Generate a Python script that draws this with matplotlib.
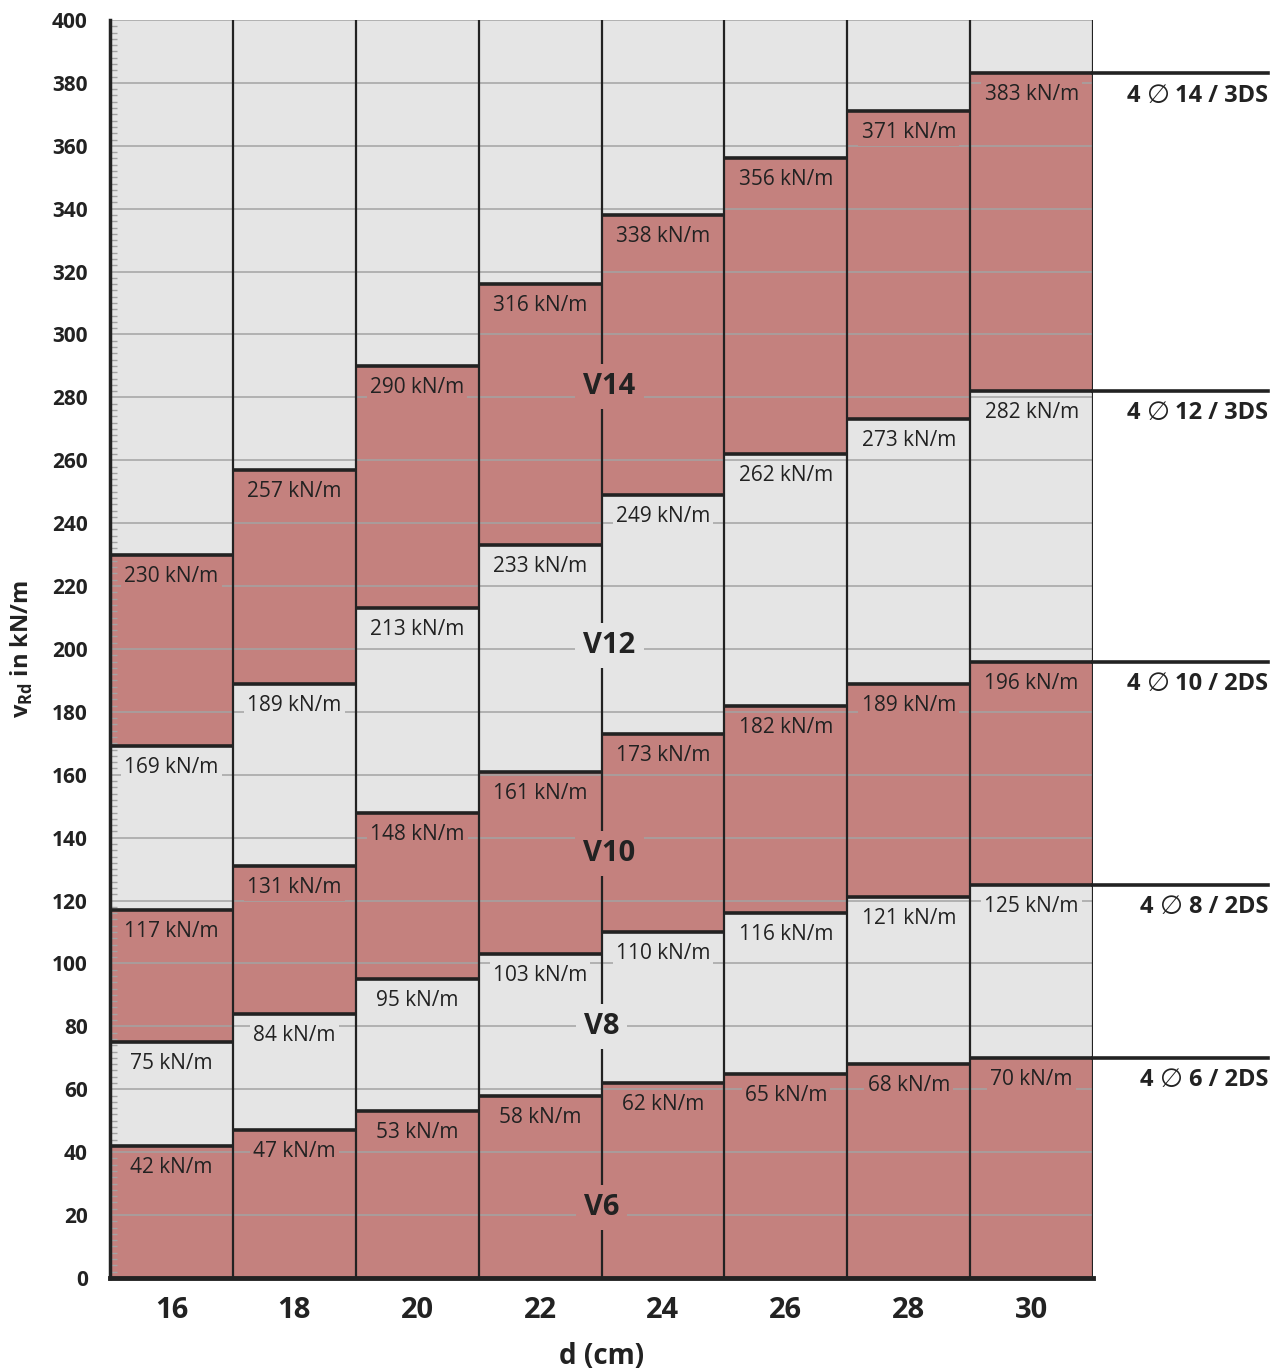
import matplotlib.pyplot as plt
from matplotlib.ticker import MultipleLocator
from matplotlib.transforms import offset_copy

plt.rcParams['font.family'] = ['Open Sans', 'DejaVu Sans']

# thickness d in cm and shear resistance levels per reinforcement type
d = [16, 18, 20, 22, 24, 26, 28, 30]
v6 = [42, 47, 53, 58, 62, 65, 68, 70]
v8 = [75, 84, 95, 103, 110, 116, 121, 125]
v10 = [117, 131, 148, 161, 173, 182, 189, 196]
v12 = [169, 189, 213, 233, 249, 262, 273, 282]
v14 = [230, 257, 290, 316, 338, 356, 371, 383]

levels = [v6, v8, v10, v12, v14]
names = ["V6", "V8", "V10", "V12", "V14"]
name_x = [23, 23, 23.13, 23.13, 23.13]
name_y = [22.5, 80, 135, 201, 283.5]
bars_n = ["6", "8", "10", "12", "14"]
ds = ["2DS", "2DS", "2DS", "3DS", "3DS"]

red = "#c4817e"
grey = "#e5e5e5"
ink = "#222222"

fig = plt.figure(figsize=(12.82, 13.7), dpi=100)
ax = fig.add_axes([0.0858, 0.0672, 0.7668, 0.9182])

# stacked segments, alternating red / grey
bottom = [0] * len(d)
for i, lev in enumerate(levels):
    h = [t - b for t, b in zip(lev, bottom)]
    ax.bar(d, h, bottom=bottom, width=2, color=red if i % 2 == 0 else grey,
           edgecolor="none", zorder=1)
    bottom = lev
ax.bar(d, [400 - b for b in bottom], bottom=bottom, width=2, color=grey,
       edgecolor="none", zorder=1)

ax.set_xlim(15, 31)
ax.set_ylim(0, 400)
ax.yaxis.set_major_locator(MultipleLocator(20))
ax.yaxis.set_minor_locator(MultipleLocator(2))
ax.grid(axis="y", which="major", color="#a3a3a3", lw=1.1, zorder=2)
ax.set_axisbelow(False)

# column separators
for x in [17, 19, 21, 23, 25, 27, 29, 31]:
    ax.axvline(x, color=ink, lw=1.6, zorder=3)

renderer = fig.canvas.get_renderer()

# level lines and labels
for i, lev in enumerate(levels):
    below = red if i % 2 == 0 else grey
    for x, v in zip(d, lev):
        ax.hlines(v, x - 1, x + 1, color=ink, lw=2.6, zorder=4)
        ax.annotate(f"{v} kN/m", (x, v), xytext=(0, -15.5), textcoords="offset points",
                    ha="center", va="center", fontsize=15, color=ink, zorder=5,
                    bbox=dict(boxstyle="square,pad=0.15", fc=below, ec="none"))
    # reference lines and reinforcement label on the right
    ax.plot([31, 33.85], [lev[-1], lev[-1]], color=ink, lw=2.6,
            clip_on=False, zorder=4)
    tr = offset_copy(ax.transData, fig=fig, x=0, y=-16, units="points")
    t1 = ax.text(33.85, lev[-1], f"{bars_n[i]} / {ds[i]}", transform=tr,
                 ha="right", va="center", fontsize=17, fontweight="bold",
                 color=ink, clip_on=False)
    w1 = t1.get_window_extent(renderer).width * 72 / fig.dpi
    tr2 = offset_copy(ax.transData, fig=fig, x=-w1 - 4, y=-16, units="points")
    t2 = ax.text(33.85, lev[-1], "\u2205", transform=tr2, ha="right", va="center",
                 fontsize=19, family=["DejaVu Sans"], color=ink, clip_on=False)
    w2 = t2.get_window_extent(renderer).width * 72 / fig.dpi
    tr3 = offset_copy(ax.transData, fig=fig, x=-w1 - w2 - 9, y=-16, units="points")
    ax.text(33.85, lev[-1], "4", transform=tr3, ha="right", va="center",
            fontsize=17, fontweight="bold", color=ink, clip_on=False)

for i, n in enumerate(names):
    fc = red if i % 2 == 0 else grey
    ax.text(name_x[i], name_y[i], n, ha="center", va="center", fontsize=21,
            fontweight="bold", color=ink, zorder=6,
            bbox=dict(boxstyle="square,pad=0.28", fc=fc, ec="none"))

for s in ["top", "right"]:
    ax.spines[s].set_visible(False)
ax.spines["left"].set_linewidth(2.5)
ax.spines["bottom"].set_linewidth(3.5)
ax.spines["left"].set_color(ink)
ax.spines["bottom"].set_color(ink)
ax.spines["left"].set_zorder(7)
ax.spines["bottom"].set_zorder(7)

ax.set_xticks(d)
ax.tick_params(axis="x", length=0, labelsize=21, pad=13)
ax.tick_params(axis="y", which="major", length=0, labelsize=15, pad=16)
ax.tick_params(axis="y", which="minor", direction="in", length=5, color="#a3a3a3", width=1)
for lab in ax.get_xticklabels() + ax.get_yticklabels():
    lab.set_fontweight("bold")
    lab.set_color(ink)

ax.set_xlabel("d (cm)", fontsize=20, fontweight="bold", color=ink, labelpad=12)
ax.set_ylabel("v$_{\\mathregular{Rd}}$ in kN/m", fontsize=17, fontweight="bold",
              color=ink, labelpad=12)

fig.savefig("out.png", dpi=100)
